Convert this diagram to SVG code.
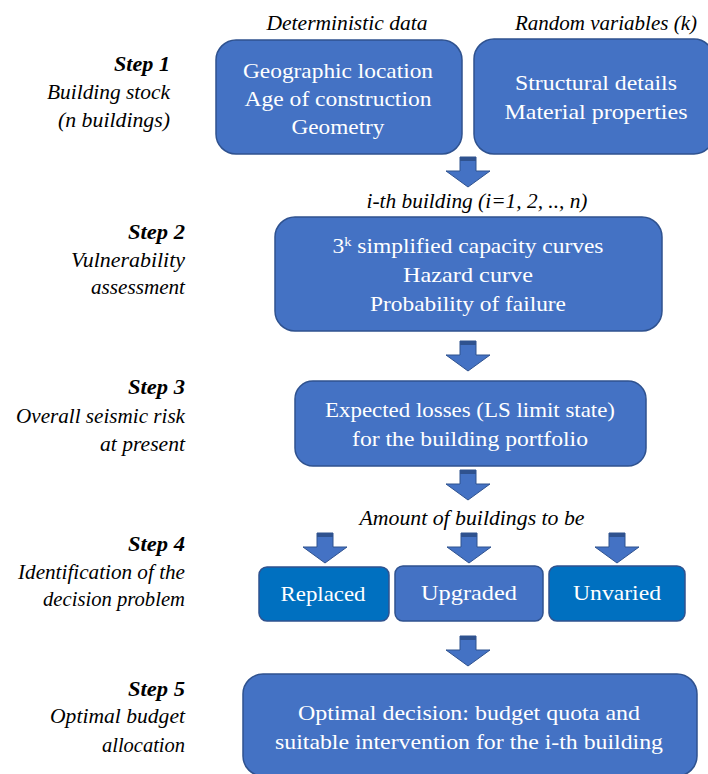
<svg xmlns="http://www.w3.org/2000/svg" width="708" height="774" viewBox="0 0 708 774">
<style>
.box{fill:#4472C4;stroke:#2F528F;stroke-width:1.5}
.box2{fill:#0070C0;stroke:#2F528F;stroke-width:1.5}
.t{font-family:"Liberation Serif","DejaVu Serif",serif;font-size:21px;fill:#ffffff;text-anchor:middle}
.lab{font-family:"Liberation Serif","DejaVu Serif",serif;font-size:20px;fill:#000000;font-style:italic;text-anchor:middle}
.step{font-family:"Liberation Serif","DejaVu Serif",serif;font-size:20px;fill:#000000;font-style:italic;font-weight:bold;text-anchor:end}
.side{font-family:"Liberation Serif","DejaVu Serif",serif;font-size:20px;fill:#000000;font-style:italic;text-anchor:end}
.arr{fill:#4472C4;stroke:#2F528F;stroke-width:1}
.band{fill:#2F528F}
</style>
<defs>
<g id="arrow">
<path class="arr" d="M-8,0 L8,0 L8,14 L22,14 L0,30 L-22,14 L-8,14 Z"/>
<rect class="band" x="-8" y="0" width="16" height="4"/>
</g>
</defs>

<g id="labels">
<text class="lab" x="347" y="30" textLength="161" lengthAdjust="spacingAndGlyphs">Deterministic data</text>
<text class="lab" x="606" y="30" textLength="182" lengthAdjust="spacingAndGlyphs">Random variables (k)</text>
<text class="lab" x="477" y="208" textLength="221" lengthAdjust="spacingAndGlyphs">i-th building (i=1, 2, .., n)</text>
<text class="lab" x="472" y="525" textLength="225" lengthAdjust="spacingAndGlyphs">Amount of buildings to be</text>
</g>

<g id="step1-label">
<text class="step" x="170" y="71" textLength="56" lengthAdjust="spacingAndGlyphs">Step 1</text>
<text class="side" x="170" y="99" textLength="123" lengthAdjust="spacingAndGlyphs">Building stock</text>
<text class="side" x="170" y="127" textLength="112" lengthAdjust="spacingAndGlyphs">(n buildings)</text>
</g>
<g id="step2-label">
<text class="step" x="185" y="239" textLength="57" lengthAdjust="spacingAndGlyphs">Step 2</text>
<text class="side" x="185" y="267" textLength="114" lengthAdjust="spacingAndGlyphs">Vulnerability</text>
<text class="side" x="185" y="294" textLength="94" lengthAdjust="spacingAndGlyphs">assessment</text>
</g>
<g id="step3-label">
<text class="step" x="185" y="394" textLength="57" lengthAdjust="spacingAndGlyphs">Step 3</text>
<text class="side" x="185" y="423" textLength="169" lengthAdjust="spacingAndGlyphs">Overall seismic risk</text>
<text class="side" x="185" y="451" textLength="85" lengthAdjust="spacingAndGlyphs">at present</text>
</g>
<g id="step4-label">
<text class="step" x="185" y="551" textLength="57" lengthAdjust="spacingAndGlyphs">Step 4</text>
<text class="side" x="185" y="579" textLength="167" lengthAdjust="spacingAndGlyphs">Identification of the</text>
<text class="side" x="185" y="606" textLength="142" lengthAdjust="spacingAndGlyphs">decision problem</text>
</g>
<g id="step5-label">
<text class="step" x="185" y="696" textLength="57" lengthAdjust="spacingAndGlyphs">Step 5</text>
<text class="side" x="185" y="723" textLength="135" lengthAdjust="spacingAndGlyphs">Optimal budget</text>
<text class="side" x="185" y="752" textLength="83" lengthAdjust="spacingAndGlyphs">allocation</text>
</g>

<g id="deterministic">
<rect class="box" x="216" y="40" width="246" height="114" rx="20"/>
<text class="t" x="338" y="78" textLength="190" lengthAdjust="spacingAndGlyphs">Geographic location</text>
<text class="t" x="338" y="106" textLength="187" lengthAdjust="spacingAndGlyphs">Age of construction</text>
<text class="t" x="338" y="134" textLength="93" lengthAdjust="spacingAndGlyphs">Geometry</text>
</g>
<g id="random">
<rect class="box" x="474" y="39" width="240" height="115" rx="20"/>
<text class="t" x="596" y="90" textLength="162" lengthAdjust="spacingAndGlyphs">Structural details</text>
<text class="t" x="596" y="119" textLength="183" lengthAdjust="spacingAndGlyphs">Material properties</text>
</g>
<g id="vulnerability">
<rect class="box" x="275" y="217" width="387" height="114" rx="20"/>
<text class="t" x="468" y="253" textLength="271" lengthAdjust="spacingAndGlyphs">3<tspan font-size="13" baseline-shift="super">k</tspan> simplified capacity curves</text>
<text class="t" x="468" y="282" textLength="130" lengthAdjust="spacingAndGlyphs">Hazard curve</text>
<text class="t" x="468" y="311" textLength="196" lengthAdjust="spacingAndGlyphs">Probability of failure</text>
</g>
<g id="losses">
<rect class="box" x="295" y="381" width="351" height="85" rx="18"/>
<text class="t" x="470" y="417" textLength="290" lengthAdjust="spacingAndGlyphs">Expected losses (LS limit state)</text>
<text class="t" x="470" y="446" textLength="236" lengthAdjust="spacingAndGlyphs">for the building portfolio</text>
</g>
<g id="replaced">
<rect class="box2" x="259" y="567" width="130" height="54" rx="8"/>
<text class="t" x="323" y="601" textLength="85" lengthAdjust="spacingAndGlyphs">Replaced</text>
</g>
<g id="upgraded">
<rect class="box" x="395" y="566" width="148" height="55" rx="8"/>
<text class="t" x="469" y="600" textLength="96" lengthAdjust="spacingAndGlyphs">Upgraded</text>
</g>
<g id="unvaried">
<rect class="box2" x="549" y="566" width="136" height="55" rx="8"/>
<text class="t" x="617" y="600" textLength="88" lengthAdjust="spacingAndGlyphs">Unvaried</text>
</g>
<g id="optimal">
<rect class="box" x="243" y="674" width="454" height="102" rx="20"/>
<text class="t" x="469" y="720" textLength="342" lengthAdjust="spacingAndGlyphs">Optimal decision: budget quota and</text>
<text class="t" x="469" y="749" textLength="388" lengthAdjust="spacingAndGlyphs">suitable intervention for the i-th building</text>
</g>

<g id="connectors">
<use href="#arrow" x="468" y="157"/>
<use href="#arrow" x="468" y="341"/>
<use href="#arrow" x="468" y="470"/>
<use href="#arrow" x="325" y="533"/>
<use href="#arrow" x="469" y="533"/>
<use href="#arrow" x="617" y="533"/>
<use href="#arrow" x="468" y="636"/>
</g>
</svg>
